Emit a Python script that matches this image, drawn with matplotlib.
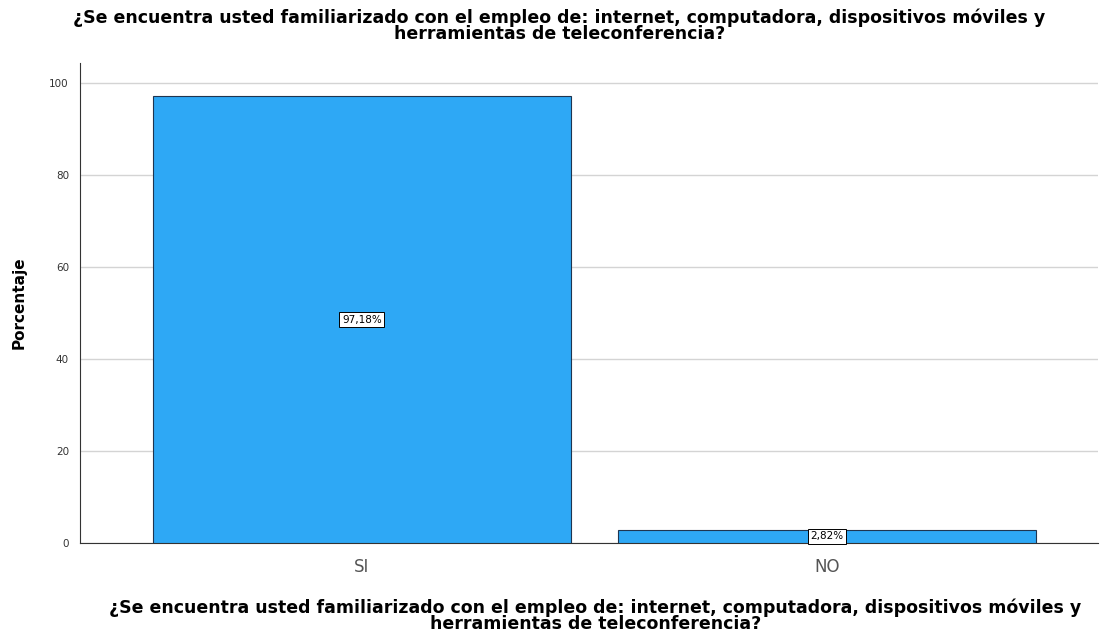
import matplotlib.pyplot as plt

categorias = ['SI', 'NO']
porcentajes = [97.18, 2.82]
etiquetas = ['97,18%', '2,82%']
titulo = ('¿Se encuentra usted familiarizado con el empleo de: internet, computadora, dispositivos móviles y\n'
          'herramientas de teleconferencia?')

plt.rcParams['font.family'] = ['DejaVu Sans']

fig = plt.figure(figsize=(11.01, 6.38), dpi=100)
ax = fig.add_axes([0.0727, 0.149, 0.925, 0.753])

x = range(len(categorias))
bars = ax.bar(x, porcentajes, width=0.9, color='#2ea8f5', edgecolor='#1f3550', linewidth=0.8, zorder=3)

for bar, txt in zip(bars, etiquetas):
    ax.text(bar.get_x() + bar.get_width() / 2, bar.get_height() / 2, txt,
            ha='center', va='center', fontsize=7.5, zorder=4,
            bbox=dict(boxstyle='square,pad=0.25', facecolor='white', edgecolor='black', linewidth=0.7))

ax.set_xlim(-0.606, 1.584)
ax.set_ylim(0, 104.5)
ax.set_yticks([0, 20, 40, 60, 80, 100])
ax.yaxis.grid(True, color='#d4d4d4', linewidth=1, zorder=0)
ax.set_xticks(list(x))
ax.set_xticklabels(categorias, fontsize=12, color='#555555')
ax.tick_params(axis='y', labelsize=7.5, length=0, pad=8, labelcolor='#333333')
ax.tick_params(axis='x', length=0, pad=11)

for s in ['top', 'right']:
    ax.spines[s].set_visible(False)
ax.spines['left'].set_color('#333333')
ax.spines['bottom'].set_color('#333333')

ax.set_ylabel('Porcentaje', fontsize=11, fontweight='bold')
ax.yaxis.set_label_coords(-0.052, 0.5)
ax.set_xlabel(titulo, fontsize=12.5, fontweight='bold', linespacing=0.85)
ax.xaxis.set_label_coords(0.506, -0.115)
fig.suptitle(titulo, fontsize=12.5, fontweight='bold', x=0.508, y=0.986, linespacing=0.85)

plt.savefig('out.png', dpi=100)
